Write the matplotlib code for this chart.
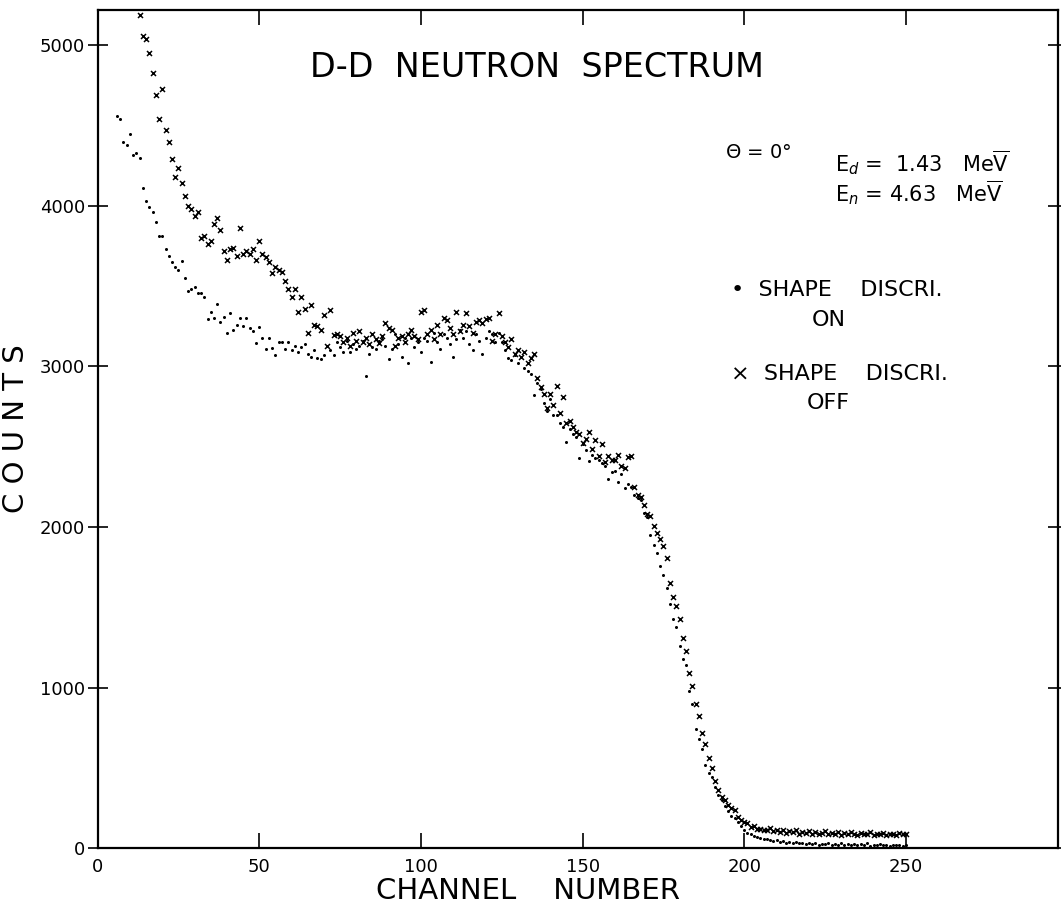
#!/usr/bin/env python3
import matplotlib
matplotlib.use("Agg")
import matplotlib.pyplot as plt
import numpy as np

# shape discrimination ON (dots), channels 6..250
on_start = 6
on_counts = [
    4560, 4540, 4400, 4380, 4450, 4320, 4330, 4300, 4110, 4030,   # 6-15
    3995, 3960, 3900, 3810, 3815, 3730, 3690, 3650, 3620, 3600,   # 16-25
    3655, 3550, 3470, 3480, 3495, 3460, 3455, 3430, 3295, 3340,   # 26-35
    3300, 3390, 3280, 3310, 3210, 3330, 3230, 3260, 3300, 3250,   # 36-45
    3300, 3240, 3220, 3145, 3245, 3175, 3110, 3180, 3115, 3070,   # 46-55
    3150, 3155, 3110, 3150, 3100, 3130, 3090, 3120, 3140, 3080,   # 56-65
    3060, 3100, 3050, 3045, 3070, 3130, 3100, 3070, 3150, 3120,   # 66-75
    3090, 3160, 3090, 3140, 3110, 3130, 3160, 2940, 3080, 3120,   # 76-85
    3110, 3160, 3170, 3130, 3045, 3110, 3200, 3140, 3060, 3180,   # 86-95
    3020, 3180, 3120, 3150, 3090, 3180, 3160, 3030, 3210, 3150,   # 96-105
    3110, 3200, 3180, 3140, 3060, 3170, 3230, 3180, 3220, 3140,   # 106-115
    3105, 3200, 3160, 3075, 3180, 3220, 3200, 3150, 3210, 3150,   # 116-125
    3100, 3050, 3040, 3070, 3020, 3060, 2990, 2970, 2950, 2820,   # 126-135
    2900, 2860, 2770, 2720, 2800, 2700, 2700, 2650, 2620, 2530,   # 136-145
    2610, 2580, 2560, 2430, 2520, 2480, 2410, 2450, 2430, 2420,   # 146-155
    2400, 2380, 2300, 2340, 2350, 2280, 2330, 2240, 2270, 2250,   # 156-165
    2200, 2180, 2170, 2090, 2060, 1950, 1890, 1840, 1760, 1700,   # 166-175
    1620, 1520, 1430, 1380, 1260, 1180, 1140, 980, 900, 740,      # 176-185
    680, 620, 520, 470, 440, 380, 330, 300, 260, 230,             # 186-195
    200, 185, 160, 140, 110, 95, 90, 75, 70, 65,                  # 196-205
    60, 55, 50, 45, 50, 40, 45, 35, 40, 30,                       # 206-215
    38, 32, 30, 28, 35, 25, 30, 22, 28, 25,                       # 216-225
    30, 20, 25, 22, 30, 18, 25, 20, 28, 22,                       # 226-235
    25, 20, 30, 15, 22, 20, 25, 18, 20, 15,                       # 236-245
    22, 18, 20, 15, 20,                                           # 246-250
]

# shape discrimination OFF (crosses), channels 13..250
off_start = 13
off_counts = [
    5190, 5060, 5040, 4950, 4830, 4690, 4540, 4730, 4470, 4400,   # 13-22
    4290, 4180, 4235, 4140, 4060, 4000, 3980, 3940, 3960, 3800,   # 23-32
    3810, 3760, 3780, 3890, 3925, 3850, 3720, 3660, 3730, 3740,   # 33-42
    3690, 3860, 3700, 3720, 3700, 3730, 3660, 3780, 3700, 3680,   # 43-52
    3650, 3580, 3620, 3600, 3590, 3530, 3480, 3430, 3480, 3340,   # 53-62
    3430, 3360, 3210, 3380, 3260, 3250, 3225, 3320, 3130, 3350,   # 63-72
    3195, 3200, 3190, 3150, 3175, 3130, 3210, 3160, 3220, 3150,   # 73-82
    3180, 3140, 3205, 3170, 3145, 3190, 3270, 3240, 3230, 3130,   # 83-92
    3180, 3190, 3150, 3200, 3230, 3190, 3170, 3340, 3350, 3200,   # 93-102
    3230, 3170, 3260, 3200, 3300, 3290, 3240, 3200, 3340, 3220,   # 103-112
    3260, 3330, 3250, 3210, 3280, 3290, 3270, 3295, 3300, 3160,   # 113-122
    3200, 3330, 3190, 3150, 3120, 3170, 3080, 3100, 3060, 3090,   # 123-132
    3020, 3050, 3075, 2930, 2870, 2830, 2740, 2830, 2760, 2880,   # 133-142
    2710, 2810, 2650, 2660, 2620, 2590, 2580, 2525, 2550, 2590,   # 143-152
    2485, 2540, 2440, 2520, 2405, 2440, 2420, 2420, 2450, 2380,   # 153-162
    2370, 2435, 2440, 2250, 2200, 2190, 2140, 2080, 2070, 2005,   # 163-172
    1960, 1925, 1880, 1810, 1650, 1565, 1510, 1425, 1310, 1230,   # 173-182
    1090, 1010, 900, 820, 720, 650, 560, 500, 420, 360,           # 183-192
    320, 300, 270, 250, 235, 195, 175, 160, 155, 130,             # 193-202
    135, 120, 120, 115, 110, 125, 105, 110, 100, 115,             # 203-212
    95, 105, 100, 110, 90, 100, 95, 105, 85, 100,                 # 213-222
    90, 95, 105, 85, 95, 90, 100, 80, 95, 85,                     # 223-232
    100, 90, 80, 95, 85, 90, 100, 80, 90, 85,                     # 233-242
    95, 80, 90, 85, 80, 95, 85, 90,                               # 243-250
]

x_ticks = [0, 50, 100, 150, 200, 250]
y_ticks = [0, 1000, 2000, 3000, 4000, 5000]
y_labels = ["0", "1000", "2000", "3000", "4000", "5000"]

on_ch = np.arange(on_start, on_start + len(on_counts))
off_ch = np.arange(off_start, off_start + len(off_counts))

fig = plt.figure(figsize=(10.61, 9.11), dpi=100)
ax = fig.add_axes([0.092, 0.069, 0.905, 0.92])

ax.plot(on_ch, on_counts, ls="none", marker="o", ms=2.2, color="black", mew=0)
ax.plot(off_ch, off_counts, ls="none", marker="x", ms=3.6, color="black", mew=1.1)

ax.set_xlim(0, 297)
ax.set_ylim(0, 5220)
ax.set_xticks(x_ticks)
ax.set_yticks(y_ticks)
ax.set_yticklabels(y_labels)
ax.tick_params(axis="x", direction="in", length=11, width=1.2, labelsize=13,
               pad=7, top=True)
ax.tick_params(axis="y", direction="inout", length=14, width=1.2, labelsize=13,
               pad=2, right=True)
for s in ax.spines.values():
    s.set_linewidth(1.6)

ax.set_xlabel("CHANNEL    NUMBER", fontsize=21)
ax.xaxis.set_label_coords(0.448, -0.034)
ax.set_ylabel("C O U N T S", fontsize=21)
ax.yaxis.set_label_coords(-0.07, 0.5)

ax.text(136, 4860, "D-D  NEUTRON  SPECTRUM", fontsize=24, ha="center", va="center")
ax.text(194, 4330, r"$\Theta$ = 0$\degree$", fontsize=14, ha="left", va="center")
ax.text(228, 4270, r"E$_{d}$ =  1.43   Me$\overline{\rm V}$", fontsize=15, ha="left", va="center")
ax.text(228, 4080, r"E$_{n}$ = 4.63   Me$\overline{\rm V}$", fontsize=15, ha="left", va="center")
ax.text(196, 3475, "•  SHAPE    DISCRI.", fontsize=16, ha="left", va="center")
ax.text(226, 3290, "ON", fontsize=16, ha="center", va="center")
ax.text(196, 2955, "×  SHAPE    DISCRI.", fontsize=16, ha="left", va="center")
ax.text(226, 2770, "OFF", fontsize=16, ha="center", va="center")

plt.savefig("out.png", dpi=100)
